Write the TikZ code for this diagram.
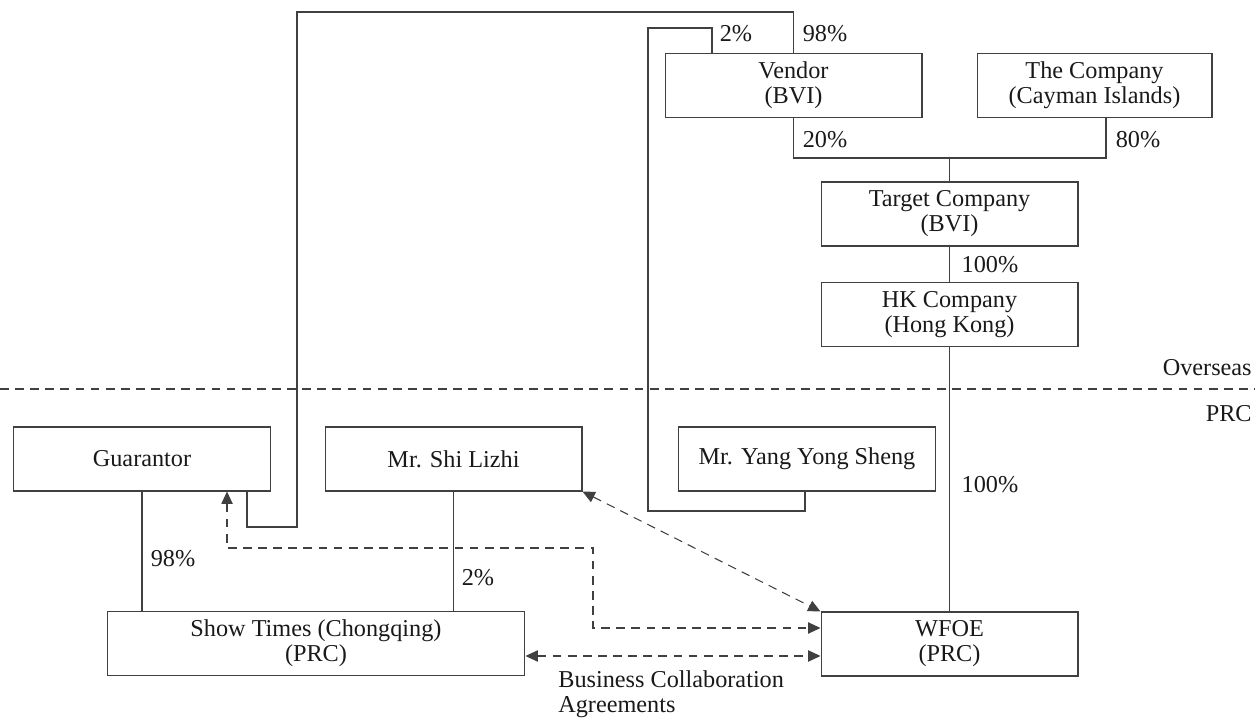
\documentclass[tikz,border=0pt]{standalone}
\usepackage{fontspec}
\setmainfont{Liberation Serif}
\usepackage{tikz}
\usetikzlibrary{shapes,arrows,arrows.meta,positioning,calc}

\begin{document}
\begin{tikzpicture}[x=0.02cm, y=-0.02cm, >={Triangle[length=7pt,width=6.4pt]}]
  \tikzstyle{entity}=[rectangle, draw=black!75, line width=0.6pt, minimum width=5.14cm, minimum height=1.28cm, align=center, inner sep=2pt, font=\fontsize{13.8}{14.2}\selectfont, text=black!90]
  \tikzstyle{share}=[font=\fontsize{13.8}{14.2}\selectfont, text=black!90, inner sep=0pt]
  \tikzstyle{link}=[draw=black!75, line width=0.6pt]
  \tikzstyle{deal}=[draw=black!75, line width=0.6pt, dash pattern=on 5pt off 3.6pt, <->]

  \useasboundingbox (0,0) rectangle (1255,719);

  % Overseas entities
  \node[entity] (vendor) at (793.5,85.5) {Vendor\\(BVI)};
  \node[entity, minimum width=4.7cm] (company) at (1094.5,85.5) {The Company\\(Cayman Islands)};
  \node[entity] (target) at (949.5,214) {Target Company\\(BVI)};
  \node[entity] (hk) at (949.5,314.5) {HK Company\\(Hong Kong)};

  % PRC entities
  \node[entity] (guarantor) at (142,459) {Guarantor};
  \node[entity] (shi) at (453.5,459) {Mr. Shi Lizhi};
  \node[entity] (yang) at (807,459) {Mr. Yang Yong Sheng};
  \node[entity, minimum width=8.36cm] (showtimes) at (316,643.5) {Show Times (Chongqing)\\(PRC)};
  \node[entity] (wfoe) at (949.5,644) {WFOE\\(PRC)};

  % Overseas / PRC divide
  \draw[link, dash pattern=on 5pt off 3.6pt] (0,389) -- (1255,389);
  \node[share, anchor=east] (overseas) at (1252,368) {Overseas};
  \node[share, anchor=east] (prc) at (1252,414) {PRC};

  % Shareholdings
  \draw[link] ([xshift=-0.48cm]guarantor.south east) |- (297,527) |- (vendor.north |- 0,12) -- (vendor.north);
  \draw[link] ([xshift=-0.04cm]yang.south) |- (648,511) |- ([xshift=-1.63cm]vendor.north |- 0,28) -- ([xshift=-1.63cm]vendor.north);
  \draw[link] (vendor.south) |- ([xshift=0.23cm]company.south |- 0,158) -- ([xshift=0.23cm]company.south);
  \draw[link] (target.north) -- (target.north |- 0,158);
  \draw[link] (target) -- (hk);
  \draw[link] (hk) -- (wfoe);
  \draw[link] (guarantor) -- (guarantor |- showtimes.north);
  \draw[link] (shi) -- (shi |- showtimes.north);

  % Contractual arrangements
  \draw[deal] ([xshift=-0.88cm]guarantor.south east) |- (593,548) |- ([yshift=0.32cm]wfoe.west);
  \draw[deal] (shi.south east) -- (wfoe.north west);
  \draw[deal] ([yshift=-0.25cm]showtimes.east) -- ([yshift=-0.25cm]showtimes.east -| wfoe.west);

  % Labels
  \node[share] (pv) at (736,34) {2\%};
  \node[share] (gv) at (825,34) {98\%};
  \node[share] (vt) at (825,140) {20\%};
  \node[share] (ct) at (1138,140) {80\%};
  \node[share] (th) at (990,265) {100\%};
  \node[share] (hw) at (990,485) {100\%};
  \node[share] (gs) at (173,559) {98\%};
  \node[share] (ss) at (478,578) {2\%};
  \node[share, anchor=west, align=left] (bca) at (558,694) {Business Collaboration\\Agreements};
\end{tikzpicture}
\end{document}
